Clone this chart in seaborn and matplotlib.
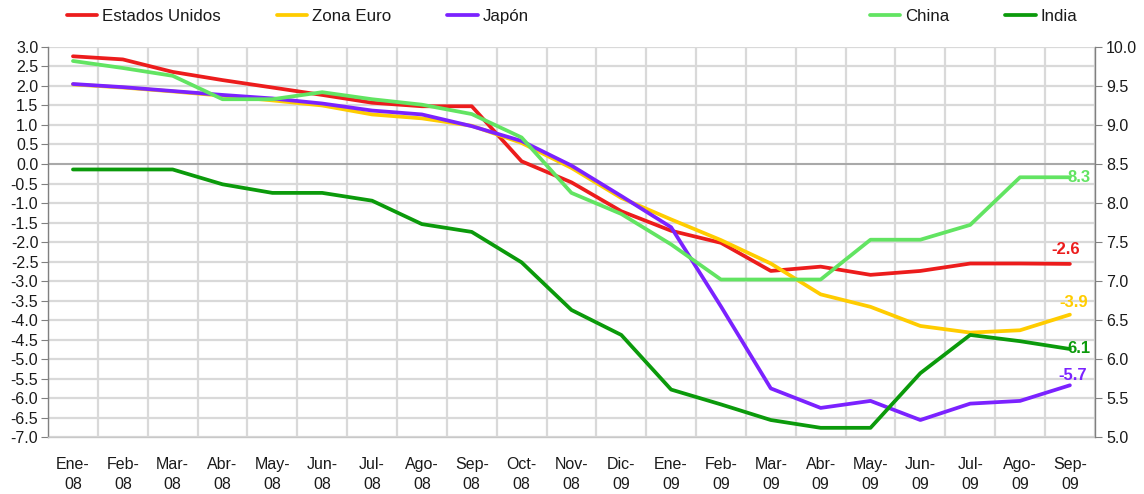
import numpy as np
import pandas as pd
import seaborn as sns
import matplotlib.pyplot as plt

# meses (eje categórico)
months = ["Ene-\n08", "Feb-\n08", "Mar-\n08", "Abr-\n08", "May-\n08", "Jun-\n08",
          "Jul-\n08", "Ago-\n08", "Sep-\n08", "Oct-\n08", "Nov-\n08", "Dic-\n09",
          "Ene-\n09", "Feb-\n09", "Mar-\n09", "Abr-\n09", "May-\n09", "Jun-\n09",
          "Jul-\n09", "Ago-\n09", "Sep-\n09"]

# eje izquierdo
usa = [2.76, 2.68, 2.36, 2.15, 1.96, 1.77, 1.57, 1.48, 1.48, 0.07, -0.47, -1.21,
       -1.71, -2.02, -2.74, -2.63, -2.84, -2.74, -2.55, -2.55, -2.56]
euro = [2.04, 1.96, 1.86, 1.75, 1.63, 1.50, 1.27, 1.17, 0.98, 0.54, -0.10, -0.87,
        -1.42, -1.95, -2.55, -3.34, -3.66, -4.15, -4.32, -4.26, -3.86]
japan = [2.05, 1.97, 1.87, 1.77, 1.68, 1.55, 1.37, 1.27, 0.97, 0.59, -0.04, -0.82,
         -1.62, -3.65, -5.75, -6.25, -6.07, -6.56, -6.14, -6.07, -5.67]

# eje derecho
china = [9.82, 9.73, 9.63, 9.33, 9.33, 9.42, 9.33, 9.26, 9.14, 8.84, 8.13, 7.86,
         7.47, 7.02, 7.02, 7.02, 7.53, 7.53, 7.72, 8.33, 8.33]
india = [8.43, 8.43, 8.43, 8.24, 8.13, 8.13, 8.03, 7.73, 7.63, 7.24, 6.63, 6.31,
         5.61, 5.42, 5.22, 5.12, 5.12, 5.82, 6.31, 6.23, 6.13]

left_names = ["Estados Unidos", "Zona Euro", "Japón"]
right_names = ["China", "India"]
colors = {"Estados Unidos": "#ec1c1c", "Zona Euro": "#ffcc00", "Japón": "#7b22ff",
          "China": "#62e462", "India": "#0b9a0b"}

pos = np.arange(len(months))
df_left = pd.DataFrame({"pos": pos, "Estados Unidos": usa, "Zona Euro": euro, "Japón": japan})
df_left = df_left.melt(id_vars="pos", var_name="pais", value_name="valor")
df_right = pd.DataFrame({"pos": pos, "China": china, "India": india})
df_right = df_right.melt(id_vars="pos", var_name="pais", value_name="valor")

sns.set_style("white")
plt.rcParams["font.family"] = ["Liberation Sans", "DejaVu Sans"]
plt.rcParams["font.size"] = 11.5
plt.rcParams["text.color"] = "#1a1a1a"

fig = plt.figure(figsize=(11.44, 4.94), dpi=100)
ax = fig.add_axes([0.042, 0.115, 0.915, 0.79])
ax2 = ax.twinx()

sns.lineplot(data=df_left, x="pos", y="valor", hue="pais", hue_order=left_names,
             palette=colors, linewidth=2.7, ax=ax, legend=False, sort=False)
sns.lineplot(data=df_right, x="pos", y="valor", hue="pais", hue_order=right_names,
             palette=colors, linewidth=2.7, ax=ax2, legend=False, sort=False)

# ejes
ax.set_xlim(-0.5, len(months) - 0.5)
ax.set_ylim(-7, 3)
ax2.set_ylim(5, 10)
ax.set_yticks(np.arange(-7, 3.01, 0.5))
ax.set_yticklabels([f"{v:.1f}" for v in np.arange(-7, 3.01, 0.5)])
ax2.set_yticks(np.arange(5, 10.01, 0.5))
ax2.set_yticklabels([f"{v:.1f}" for v in np.arange(5, 10.01, 0.5)])
ax.set_xticks(pos)
ax.set_xticklabels(months, linespacing=1.45)
ax.set_xticks(np.arange(-0.5, len(months), 1), minor=True)
ax.set_xlabel("")
ax.set_ylabel("")
ax2.set_ylabel("")

ax.grid(False)
ax2.grid(False)
ax.grid(True, axis="y", which="major", color="#d9d9d9", linewidth=1.6)
ax.grid(True, axis="x", which="minor", color="#d9d9d9", linewidth=1.6)
ax.axhline(0, color="#a0a0a0", linewidth=1.2, zorder=1)

for a in (ax, ax2):
    a.spines["top"].set_visible(False)
    for s in ("left", "right", "bottom"):
        a.spines[s].set_color("#808080")
        a.spines[s].set_linewidth(1.0)
ax.spines["right"].set_visible(False)
ax2.spines["left"].set_visible(False)
ax2.spines["bottom"].set_visible(False)
ax.spines["bottom"].set_color("#c8c8c8")

ax.tick_params(axis="y", which="major", direction="out", length=5, color="#808080",
               labelsize=11.5, pad=2, labelcolor="#1a1a1a")
ax2.tick_params(axis="y", which="major", direction="out", length=5, color="#808080",
                labelsize=11.5, pad=3, labelcolor="#1a1a1a")
ax.tick_params(axis="x", which="major", length=0, labelsize=11.5, pad=14, labelcolor="#1a1a1a")
ax.tick_params(axis="x", which="minor", length=0)

# etiquetas finales
last = len(months) - 1
lab_kw = dict(textcoords="offset points", fontweight="bold", fontsize=12)
ax.annotate(f"{usa[-1]:.1f}", (last, usa[-1]), xytext=(-3, 5), ha="center", va="bottom",
            color=colors["Estados Unidos"], **lab_kw)
ax.annotate(f"{euro[-1]:.1f}", (last, euro[-1]), xytext=(3, 3), ha="center", va="bottom",
            color=colors["Zona Euro"], **lab_kw)
ax.annotate(f"{japan[-1]:.1f}", (last, japan[-1]), xytext=(2, 2), ha="center", va="bottom",
            color=colors["Japón"], **lab_kw)
ax2.annotate(f"{china[-1]:.1f}", (last, china[-1]), xytext=(-2, 0), ha="left", va="center",
             color=colors["China"], **lab_kw)
ax2.annotate(f"{india[-1]:.1f}", (last, india[-1]), xytext=(-2, 0), ha="left", va="center",
             color=colors["India"], **lab_kw)

# leyendas
lines_left = ax.get_lines()[:3]
lines_right = ax2.get_lines()[:2]
leg_kw = dict(frameon=False, handlelength=1.8, handletextpad=0.28, columnspacing=3.3,
              borderpad=0, fontsize=12.2)
fig.legend(lines_left, left_names, loc="center left", bbox_to_anchor=(0.051, 0.966),
           ncol=3, **leg_kw)
fig.legend(lines_right, right_names, loc="center left", bbox_to_anchor=(0.753, 0.966),
           ncol=2, **leg_kw)

fig.savefig("out.png", dpi=100)
